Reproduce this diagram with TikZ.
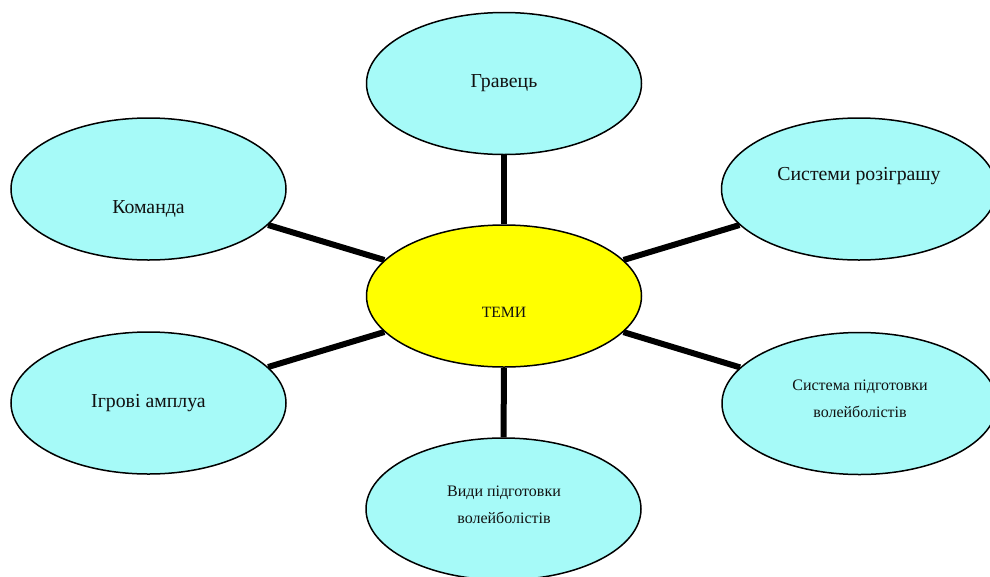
\documentclass[tikz,border=0pt]{standalone}
\usepackage{fontspec}
\setmainfont{Liberation Serif}
\usetikzlibrary{shapes.geometric}
\definecolor{bub}{HTML}{A6FAF8}
\definecolor{hub}{HTML}{FFFF00}
\definecolor{txt}{HTML}{111111}
\tikzset{
  bubble/.style={ellipse, draw=black, line width=1.5pt, fill=bub, minimum width=275pt, minimum height=142pt, inner sep=0pt},
  hubnode/.style={bubble, fill=hub},
  spoke/.style={line width=6pt, draw=black},
  big/.style={anchor=base, text=txt, font=\fontsize{19.8}{24}\selectfont},
  small/.style={anchor=base, text=txt, align=center, font=\fontsize{16}{27}\selectfont},
  hubtext/.style={anchor=base, text=txt, font=\fontsize{15.7}{18}\selectfont}
}
\begin{document}
\begin{tikzpicture}[x=1pt,y=-1pt]
\useasboundingbox (0,0) rectangle (990,576);
\node[hubnode] (c) at (504,296) {};
\node[bubble] (t) at (504,83.5) {};
\node[bubble] (tl) at (148.5,189) {};
\node[bubble] (tr) at (859,189) {};
\node[bubble] (bl) at (148.5,403) {};
\node[bubble] (br) at (859.5,403.5) {};
\node[bubble] (b) at (503.5,509) {};
\path[spoke] (c) -- (t);
\path[spoke] (c) -- (tl);
\path[spoke] (c) -- (tr);
\path[spoke] (c) -- (bl);
\path[spoke] (c) -- (br);
\path[spoke] (c) -- (b);
\node[hubtext] (ct) at (504,317.5) {ТЕМИ};
\node[big] (tt) at (504,87) {Гравець};
\node[big] (tlt) at (148.5,213) {Команда};
\node[big] (trt) at (859,180) {Системи розіграшу};
\node[big] (blt) at (148.5,407) {Ігрові амплуа};
\node[small] (brt) at (860,417) {Система підготовки\\волейболістів};
\node[small] (bt) at (504,523) {Види підготовки\\волейболістів};
\end{tikzpicture}
\end{document}
